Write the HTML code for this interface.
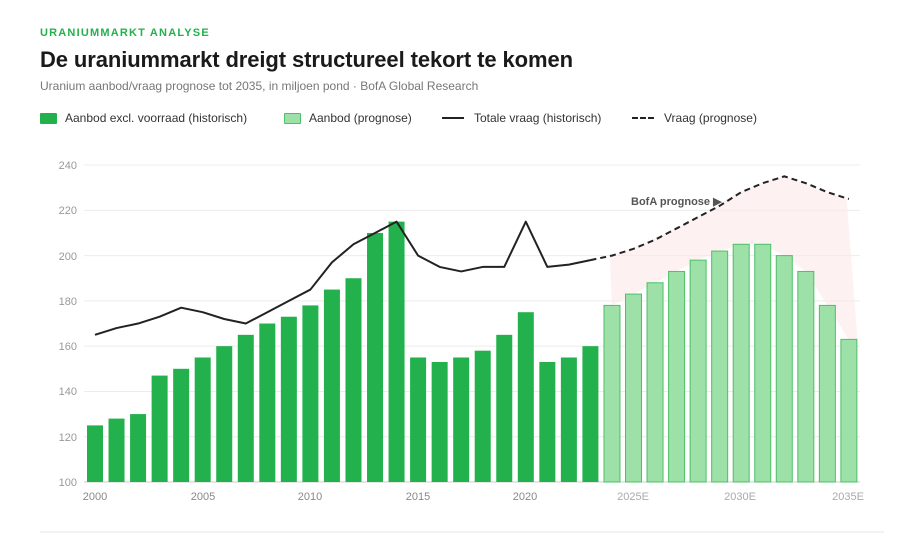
<!DOCTYPE html>
<html><head><meta charset="utf-8"><style>
body{margin:0;background:#fff;width:924px;height:540px;overflow:hidden;font-family:"Liberation Sans",sans-serif;}
.k{position:absolute;left:40px;top:27px;font-size:11px;font-weight:bold;color:#22b14c;letter-spacing:1.2px}
.t{position:absolute;left:40px;top:47px;font-size:22px;font-weight:bold;color:#1a1a1a;letter-spacing:-0.1px}
.s{position:absolute;left:40px;top:79px;font-size:12px;color:#777}
.lg{position:absolute;top:111px;font-size:12px;color:#333;display:flex;align-items:center}
.sw{width:17px;height:11px;margin-right:8px;border-radius:1px}
</style></head><body>
<div class="k">URANIUMMARKT ANALYSE</div>
<div class="t">De uraniummarkt dreigt structureel tekort te komen</div>
<div class="s">Uranium aanbod/vraag prognose tot 2035, in miljoen pond · BofA Global Research</div>
<div class="lg" style="left:40px"><div class="sw" style="background:#22b14c"></div>Aanbod excl. voorraad (historisch)</div>
<div class="lg" style="left:284px"><div class="sw" style="background:#9de0a8;border:1px solid #4cc068;box-sizing:border-box"></div>Aanbod (prognose)</div>
<div class="lg" style="left:442px"><div style="width:22px;height:2px;background:#222;margin-right:10px"></div>Totale vraag (historisch)</div>
<div class="lg" style="left:632px"><div style="width:22px;height:0;border-top:2px dashed #222;margin-right:10px"></div>Vraag (prognose)</div>
<svg id="c" width="924" height="540" style="position:absolute;left:0;top:0" font-family="Liberation Sans, sans-serif">
<g font-size="11" fill="#999" text-anchor="end">
<text x="77" y="169">240</text><text x="77" y="214">220</text><text x="77" y="260">200</text><text x="77" y="305">180</text><text x="77" y="350">160</text><text x="77" y="395">140</text><text x="77" y="441">120</text><text x="77" y="486">100</text>
</g>
<g font-size="11" fill="#888" text-anchor="middle">
<text x="95" y="500">2000</text><text x="203" y="500">2005</text><text x="310" y="500">2010</text><text x="418" y="500">2015</text><text x="525" y="500">2020</text>
<text x="633" y="500" fill="#aaa">2025E</text><text x="740" y="500" fill="#aaa">2030E</text><text x="848" y="500" fill="#aaa">2035E</text>
</g>
<text x="631" y="205" font-size="11" font-weight="bold" fill="#555">BofA prognose ▶</text>
<line x1="40" y1="532" x2="884" y2="532" stroke="#e5e5e5"/>
</svg>
<script>
var s=document.getElementById('c'),N='http://www.w3.org/2000/svg';
function X(y){return 95+(y-2000)*21.54}function Y(v){return 482-(v-100)*2.264}
function add(t,a){var e=document.createElementNS(N,t);for(var k in a)e.setAttribute(k,a[k]);s.appendChild(e);return e}
for(var v=100;v<=240;v+=20)add('line',{x1:84,x2:860,y1:Y(v),y2:Y(v),stroke:v==100?'#ccc':'#ececec'});
var sup=[125,128,130,147,150,155,160,165,170,173,178,185,190,210,215,155,153,155,158,165,175,153,155,160,178,183,188,193,198,202,205,205,200,193,178,163];
var dem=[165,168,170,173,177,175,172,170,175,180,185,197,205,210,215,200,195,193,195,195,215,195,196,198,200,203,207,212,217,222,228,232,235,232,228,225];
var p='';for(var i=24;i<=35;i++)p+=X(2000+i-0.1)+','+Y(dem[i])+' ';
p+=X(2035.4)+','+Y(sup[35])+' ';for(var i=35;i>=24;i--)p+=X(2000+i)+','+Y(sup[i])+' ';
add('polygon',{points:p,fill:'#fde8e8','fill-opacity':0.6});
for(var i=0;i<36;i++){var f=i>=24;add('rect',{x:X(2000+i)-8,y:Y(sup[i]),width:16,height:Y(100)-Y(sup[i]),fill:f?'#9de0a8':'#22b14c',stroke:f?'#4cc068':'none','stroke-width':1});}
var a='',b='';for(var i=0;i<=23;i++)a+=X(2000+i)+','+Y(dem[i])+' ';
for(var i=23;i<36;i++)b+=X(2000+i)+','+Y(dem[i])+' ';
add('polyline',{points:a,fill:'none',stroke:'#222','stroke-width':2,'stroke-linejoin':'round'});
add('polyline',{points:b,fill:'none',stroke:'#222','stroke-width':2,'stroke-dasharray':'6,4'});
</script>
</body></html>
